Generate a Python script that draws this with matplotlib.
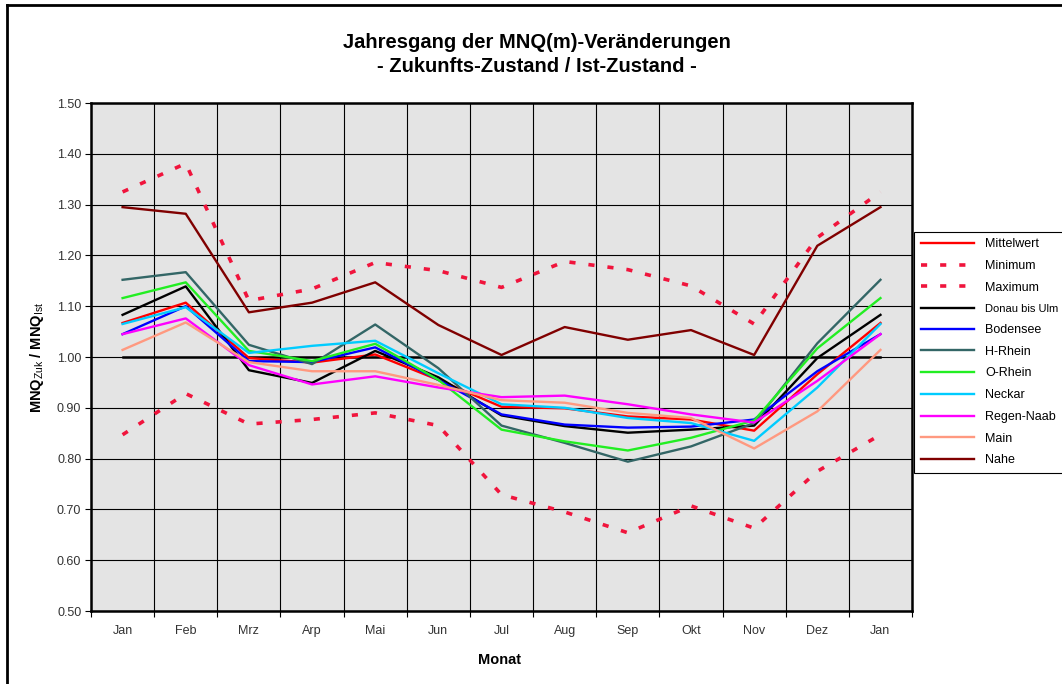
import numpy as np
import matplotlib
matplotlib.use('Agg')
import matplotlib.pyplot as plt
from matplotlib.lines import Line2D

plt.rcParams['font.family'] = 'Liberation Sans'
plt.rcParams['mathtext.fontset'] = 'custom'
plt.rcParams['mathtext.rm'] = 'Liberation Sans'
plt.rcParams['mathtext.bf'] = 'Liberation Sans:bold'

months = ['Jan', 'Feb', 'Mrz', 'Arp', 'Mai', 'Jun', 'Jul', 'Aug', 'Sep', 'Okt', 'Nov', 'Dez', 'Jan']

mittelwert = [1.067, 1.107, 0.998, 0.989, 1.005, 0.955, 0.902, 0.899, 0.883, 0.877, 0.855, 0.966, 1.067]
minimum = [0.847, 0.928, 0.868, 0.877, 0.890, 0.865, 0.729, 0.695, 0.654, 0.707, 0.663, 0.775, 0.847]
maximum = [1.325, 1.381, 1.111, 1.134, 1.186, 1.170, 1.137, 1.188, 1.172, 1.140, 1.065, 1.235, 1.325]
donau = [1.083, 1.139, 0.974, 0.949, 1.012, 0.960, 0.885, 0.864, 0.851, 0.857, 0.865, 0.998, 1.083]
bodensee = [1.045, 1.100, 0.992, 0.990, 1.019, 0.955, 0.887, 0.867, 0.861, 0.863, 0.877, 0.972, 1.045]
h_rhein = [1.152, 1.167, 1.024, 0.986, 1.064, 0.978, 0.865, 0.831, 0.794, 0.824, 0.870, 1.027, 1.152]
o_rhein = [1.116, 1.147, 1.012, 0.992, 1.026, 0.955, 0.857, 0.834, 0.816, 0.841, 0.875, 1.017, 1.116]
neckar = [1.065, 1.098, 1.008, 1.022, 1.032, 0.968, 0.907, 0.900, 0.880, 0.870, 0.835, 0.940, 1.065]
regen_naab = [1.045, 1.076, 0.984, 0.946, 0.962, 0.940, 0.921, 0.924, 0.907, 0.887, 0.871, 0.953, 1.045]
main = [1.014, 1.068, 0.990, 0.972, 0.972, 0.945, 0.915, 0.910, 0.890, 0.880, 0.820, 0.893, 1.014]
nahe = [1.295, 1.282, 1.088, 1.107, 1.147, 1.063, 1.004, 1.059, 1.034, 1.053, 1.004, 1.219, 1.295]

x = np.arange(len(months))
dotted = (0, (1.7, 3.6))
dot_color = '#F0143C'

fig = plt.figure(figsize=(10.62, 6.84), dpi=100)
ax = fig.add_axes([0.0857, 0.1067, 0.7731, 0.7427])
ax.set_facecolor('#E4E4E4')

# reference line at 1.00 (not in legend)
ax.plot(x, np.ones(len(x)), color='black', lw=1.8, zorder=2)

series = [
    ('Mittelwert', mittelwert, '#FF0000', '-'),
    ('Minimum', minimum, dot_color, dotted),
    ('Maximum', maximum, dot_color, dotted),
    ('Donau bis Ulm', donau, '#000000', '-'),
    ('Bodensee', bodensee, '#0000FF', '-'),
    ('H-Rhein', h_rhein, '#336666', '-'),
    ('O-Rhein', o_rhein, '#22EE22', '-'),
    ('Neckar', neckar, '#00CCFF', '-'),
    ('Regen-Naab', regen_naab, '#FF00FF', '-'),
    ('Main', main, '#FF9980', '-'),
    ('Nahe', nahe, '#800000', '-'),
]
handles = []
for name, vals, col, ls in series:
    lw = 2.6 if ls is dotted else 1.7
    ln, = ax.plot(x, vals, color=col, ls=ls, lw=lw, label=name, zorder=3,
                  dash_capstyle='butt')
    handles.append(ln)

ax.set_xlim(-0.5, len(x) - 0.5)
ax.set_ylim(0.5, 1.5)
ax.set_yticks(np.arange(0.5, 1.51, 0.1))
ax.set_yticklabels(['%.2f' % v for v in np.arange(0.5, 1.51, 0.1)])
ax.set_xticks(np.arange(-0.5, len(x), 1.0))
ax.set_xticklabels([])
ax.set_xticks(x, minor=True)
ax.set_xticklabels(months, minor=True)
ax.tick_params(axis='x', which='minor', length=0, pad=10, labelsize=9, labelcolor='#333333')
ax.tick_params(axis='x', which='major', length=4, width=0.8)
ax.tick_params(axis='y', length=4, width=0.8, labelsize=9, labelcolor='#333333', pad=3)
ax.grid(True, which='major', color='black', lw=0.8, zorder=1)
ax.set_axisbelow(True)
for s in ax.spines.values():
    s.set_linewidth(1.8)

ax.set_xlabel('Monat', fontsize=10.5, fontweight='bold')
ax.xaxis.set_label_coords(0.498, -0.083)
ax.set_ylabel(r'MNQ$_{\mathrm{Zuk}}$ / MNQ$_{\mathrm{Ist}}$', fontsize=10.5, fontweight='bold')
ax.yaxis.set_label_coords(-0.055, 0.5)

fig.text(0.506, 0.938, 'Jahresgang der MNQ(m)-Veränderungen', ha='center', va='center',
         fontsize=14.5, fontweight='bold')
fig.text(0.506, 0.903, '- Zukunfts-Zustand / Ist-Zustand -', ha='center', va='center',
         fontsize=14.5, fontweight='bold')

leg = fig.legend(handles=handles, loc='upper left', bbox_to_anchor=(0.861, 0.661),
                 bbox_transform=fig.transFigure, fontsize=9, handlelength=4.3,
                 labelspacing=0.78, borderaxespad=0, fancybox=False,
                 edgecolor='black', framealpha=1, borderpad=0.5, handletextpad=0.85)
leg.get_frame().set_linewidth(0.8)
leg.get_texts()[3].set_fontsize(8)

# chart area border (top and left visible)
fig.add_artist(Line2D([0.0066, 1.0], [0.9927, 0.9927], transform=fig.transFigure, color='black', lw=2))
fig.add_artist(Line2D([0.0066, 0.0066], [0.0, 0.9927], transform=fig.transFigure, color='black', lw=2))

fig.savefig('out.png', dpi=100)
